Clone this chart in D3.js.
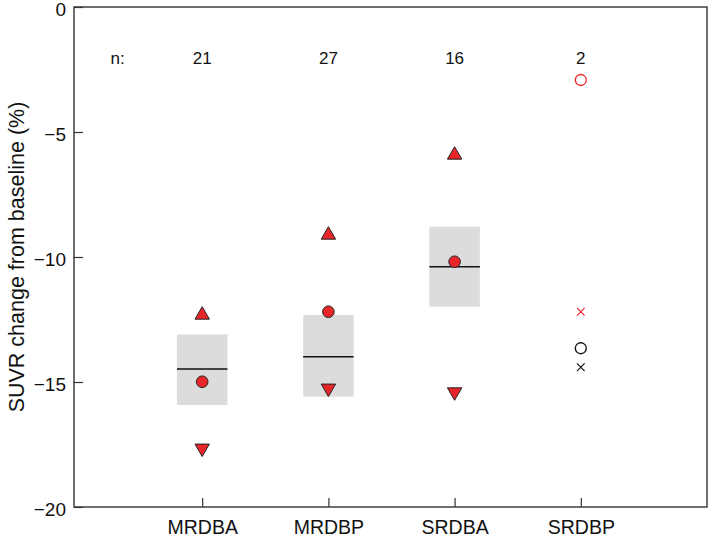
<!DOCTYPE html>
<html><head><meta charset="utf-8">
<script src="https://cdn.jsdelivr.net/npm/d3@7"></script>
<style>body{margin:0;background:#fff}svg{display:block}text{font-family:Arial,"Liberation Sans",sans-serif}</style>
</head><body><svg id="c" width="709" height="542"></svg>
<script>
const categories = ["MRDBA","MRDBP","SRDBA"];
const nLabels = ["21","27","16","2"];
const allCats = ["MRDBA","MRDBP","SRDBA","SRDBP"];
const boxTop = [-13.1,-12.32,-8.79];
const boxBottom = [-15.92,-15.59,-11.99];
const median = [-14.48,-13.99,-10.39];
const meanPt = [-14.99,-12.19,-10.19];
const upTri = [-12.32,-9.12,-5.92];
const downTri = [-17.65,-15.25,-15.4];
const srdbpRedCircle = -2.92, srdbpRedX = -12.19, srdbpBlackCircle = -13.65, srdbpBlackX = -14.41;
const yTicks = [0,-5,-10,-15,-20];

const svg = d3.select("#c");
const L=74,R=707,T=7,B=507;
const x = d3.scaleLinear().domain([0,5]).range([L+2,R]);
const y = d3.scaleLinear().domain([-20,0]).range([B,T]);
const red="#e8262a";
const FF="Arial,'Liberation Sans',sans-serif";

categories.forEach((c,i)=>{
  const cx=x(i+1), hw=(x(1.2)-x(1));
  svg.append("rect").attr("x",cx-hw).attr("width",2*hw).attr("y",y(boxTop[i])).attr("height",y(boxBottom[i])-y(boxTop[i])).attr("fill","#dcdcdc");
  svg.append("line").attr("x1",cx-hw).attr("x2",cx+hw).attr("y1",y(median[i])).attr("y2",y(median[i])).attr("stroke","#111").attr("stroke-width",1.3);
});
const tri = d3.symbol().type(d3.symbolTriangle).size(90)();
categories.forEach((c,i)=>{
  const cx=x(i+1);
  svg.append("path").attr("d",tri).attr("transform",`translate(${cx},${y(upTri[i])})`).attr("fill",red).attr("stroke","#222").attr("stroke-width",1);
  svg.append("path").attr("d",tri).attr("transform",`translate(${cx},${y(downTri[i])}) rotate(180)`).attr("fill",red).attr("stroke","#222").attr("stroke-width",1);
  svg.append("circle").attr("cx",cx).attr("cy",y(meanPt[i])).attr("r",5.8).attr("fill",red).attr("stroke","#222").attr("stroke-width",1);
});
const sx=x(4);
svg.append("circle").attr("cx",sx).attr("cy",y(srdbpRedCircle)).attr("r",5.5).attr("fill","none").attr("stroke",red).attr("stroke-width",1.3);
svg.append("circle").attr("cx",sx).attr("cy",y(srdbpBlackCircle)).attr("r",5.5).attr("fill","none").attr("stroke","#111").attr("stroke-width",1.3);
function cross(v,col){const s=3.8,cy=y(v);
  svg.append("path").attr("d",`M${sx-s},${cy-s}L${sx+s},${cy+s}M${sx-s},${cy+s}L${sx+s},${cy-s}`).attr("stroke",col).attr("stroke-width",1.2).attr("fill","none");}
cross(srdbpRedX,red); cross(srdbpBlackX,"#111");

const yAxis = d3.axisLeft(y).tickValues(yTicks).tickSize(-9).tickPadding(8).tickFormat(d=>d===0?"0":"\u2212"+Math.abs(d));
const gy = svg.append("g").attr("transform",`translate(${L},0)`).call(yAxis);
gy.select(".domain").remove();
gy.selectAll("line").attr("stroke","#333").attr("stroke-width",1.2);
gy.selectAll("text").attr("font-size",19).attr("fill","#111").attr("dy","0.45em").style("font-family",FF);
const xAxis = d3.axisBottom(x).tickValues([1,2,3,4]).tickSize(-9).tickPadding(13).tickFormat((d,i)=>allCats[i]);
const gx = svg.append("g").attr("transform",`translate(0,${B})`).call(xAxis);
gx.select(".domain").remove();
gx.selectAll("line").attr("stroke","#333").attr("stroke-width",1.2);
gx.selectAll("text").attr("font-size",19.5).attr("fill","#111").style("font-family",FF);
svg.append("rect").attr("x",L).attr("y",T).attr("width",R-L).attr("height",B-T).attr("fill","none").attr("stroke","#333").attr("stroke-width",1.4);

svg.append("text").attr("x",x(0.33)).attr("y",64).attr("text-anchor","middle").attr("font-size",17).attr("fill","#111").text("n:");
nLabels.forEach((t,i)=>svg.append("text").attr("x",x(i+1)).attr("y",64).attr("text-anchor","middle").attr("font-size",17).attr("fill","#111").text(t));

svg.append("text").attr("transform",`translate(24,${(T+B)/2}) rotate(-90)`).attr("text-anchor","middle").attr("font-size",21.5).attr("fill","#111").text("SUVR change from baseline (%)");
</script></body></html>
